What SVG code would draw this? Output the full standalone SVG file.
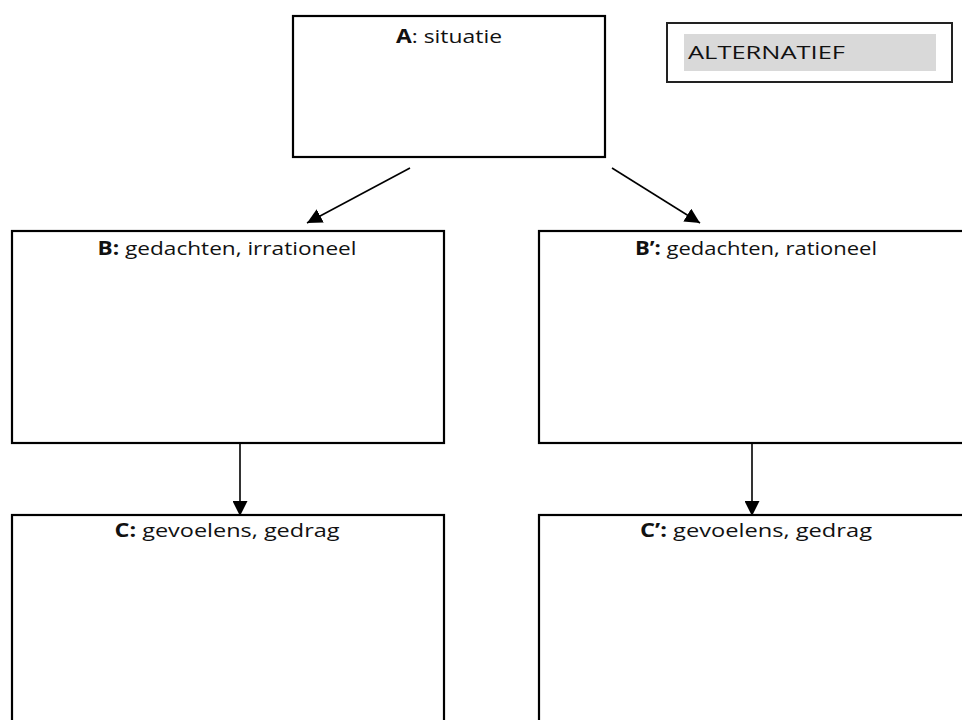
<svg xmlns="http://www.w3.org/2000/svg" width="962" height="720" viewBox="0 0 962 720">
<defs>
<style>
.box{fill:#fff;stroke:#000;stroke-width:2.2}
.t{font-family:"Open Sans","Noto Sans","Liberation Sans",sans-serif;font-size:19px;fill:#111}
.b{font-weight:bold}
.con{stroke:#000;stroke-width:1.6;fill:none;marker-end:url(#ah)}
</style>
<marker id="ah" viewBox="0 0 10 10" refX="10" refY="5" markerWidth="15" markerHeight="15" markerUnits="userSpaceOnUse" orient="auto">
<path d="M0,0 L10,5 L0,10 z" fill="#000"/>
</marker>
</defs>
<rect width="962" height="720" fill="#fff"/>
<g id="nodeA">
<rect class="box" x="293" y="16" width="312" height="141"/>
<text class="t" x="449" y="43" text-anchor="middle" textLength="106" lengthAdjust="spacingAndGlyphs"><tspan class="b">A</tspan>: situatie</text>
</g>
<g id="alternatief">
<rect x="667" y="23" width="285" height="59" fill="#fff" stroke="#222" stroke-width="2"/>
<rect x="684" y="34" width="252" height="37" fill="#d9d9d9"/>
<text class="t" x="688" y="59" textLength="157" lengthAdjust="spacingAndGlyphs">ALTERNATIEF</text>
</g>
<g id="nodeB">
<rect class="box" x="12" y="231" width="432" height="212"/>
<text class="t" x="227" y="255" text-anchor="middle" textLength="259" lengthAdjust="spacingAndGlyphs"><tspan class="b">B:</tspan> gedachten, irrationeel</text>
</g>
<g id="nodeB2">
<rect class="box" x="539" y="231" width="440" height="212"/>
<text class="t" x="756" y="255" text-anchor="middle" textLength="242" lengthAdjust="spacingAndGlyphs"><tspan class="b">B’:</tspan> gedachten, rationeel</text>
</g>
<g id="nodeC">
<rect class="box" x="12" y="515" width="432" height="220"/>
<text class="t" x="227" y="537" text-anchor="middle" textLength="225" lengthAdjust="spacingAndGlyphs"><tspan class="b">C:</tspan> gevoelens, gedrag</text>
</g>
<g id="nodeC2">
<rect class="box" x="539" y="515" width="440" height="220"/>
<text class="t" x="756" y="537" text-anchor="middle" textLength="232" lengthAdjust="spacingAndGlyphs"><tspan class="b">C’:</tspan> gevoelens, gedrag</text>
</g>
<g id="connectors">
<line class="con" x1="410" y1="168" x2="307" y2="223"/>
<line class="con" x1="612" y1="168" x2="700" y2="223"/>
<line class="con" x1="240" y1="444" x2="240" y2="516"/>
<line class="con" x1="752" y1="444" x2="752" y2="516"/>
</g>
</svg>
